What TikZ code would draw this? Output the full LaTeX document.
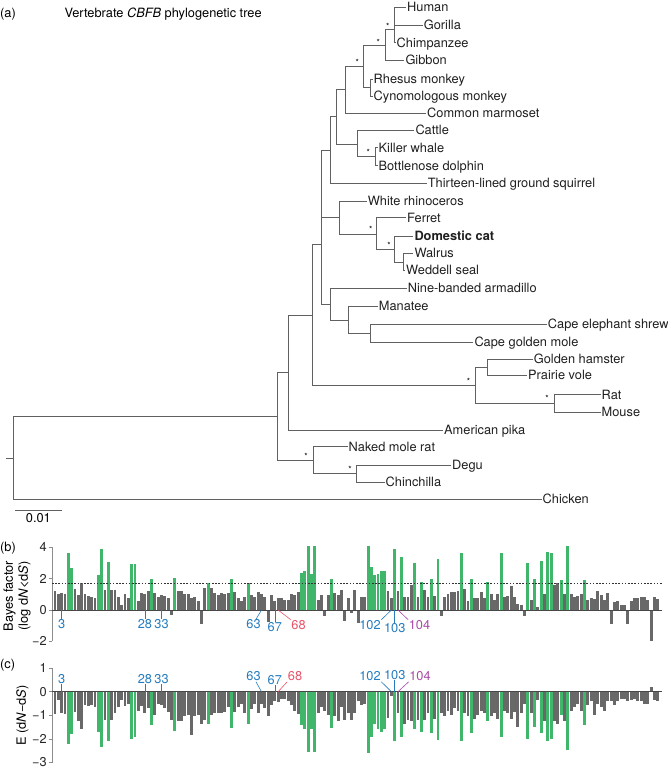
\documentclass[tikz,border=0pt]{standalone}
\usepackage{fontspec}
\setmainfont{TeX Gyre Heros}
\usepackage{xcolor}
\usetikzlibrary{positioning}

\definecolor{selgreen}{RGB}{64,182,106}
\definecolor{bargray}{RGB}{104,104,104}
\definecolor{siteblue}{RGB}{36,124,190}
\definecolor{sitered}{RGB}{232,84,106}
\definecolor{sitepurple}{RGB}{168,76,164}

\begin{document}
\begin{tikzpicture}[
  x=1pt, y=-1pt,
  font=\fontsize{12.8}{14}\selectfont,
  branch/.style={draw=black!62, line width=0.75pt},
  leaf/.style={anchor=west, inner sep=1pt, text height=9.2pt, text depth=0pt, text=black!88},
  star/.style={font=\fontsize{8.5}{8.5}\selectfont, inner sep=0pt},
  axisline/.style={draw=black!45, line width=0.8pt},
  zeroline/.style={draw=black!72, line width=0.9pt},
  ticklbl/.style={anchor=east, inner sep=1pt, text=black!85},
  site/.style={inner sep=0.5pt, text=siteblue, font=\fontsize{12.8}{14}\selectfont},
  lead/.style={draw=#1, line width=0.6pt},
  lead/.default=siteblue
]
\useasboundingbox (0,0) rectangle (668,769);

% panel (a): tree
\node[anchor=west, inner sep=0] (pa) at (0,14) {(a)};
\node[anchor=west, inner sep=0] (title) at (64.3,14) {Vertebrate \textit{CBFB} phylogenetic tree};

% internal nodes
\coordinate (rootstub) at (6,458);
\coordinate (root) at (13,458);
\coordinate (eut) at (277,416.5);
\coordinate (bor) at (288.5,372.3);
\coordinate (hyst) at (313.3,460);
\coordinate (degchin) at (356,473.5);
\coordinate (bm) at (312.5,315);
\coordinate (rod) at (475,385);
\coordinate (hv) at (487.7,367);
\coordinate (rm) at (554,403.5);
\coordinate (lm) at (321,244.3);
\coordinate (n150) at (330.7,150);
\coordinate (n116) at (336,116.7);
\coordinate (prim) at (345.3,89.3);
\coordinate (catr) at (363.7,66);
\coordinate (ape) at (385.7,45);
\coordinate (hgc) at (394.3,29.3);
\coordinate (rc) at (370.3,87.7);
\coordinate (laur) at (357.3,144.3);
\coordinate (wh) at (375.7,156.7);
\coordinate (n217) at (339.3,217.3);
\coordinate (carn) at (376.7,234.3);
\coordinate (fel) at (394.3,249.3);
\coordinate (pin) at (403.3,262.3);
\coordinate (n304) at (330,304.3);
\coordinate (afro) at (348.3,320);
\coordinate (tenr) at (370,333.3);

% leaves
\node[leaf] (human) at (406,7.3) {Human};
\node[leaf] (gorilla) at (422.7,25) {Gorilla};
\node[leaf] (chimp) at (395.5,42.7) {Chimpanzee};
\node[leaf] (gibbon) at (404.3,60.3) {Gibbon};
\node[leaf] (rhesus) at (372.5,79) {Rhesus monkey};
\node[leaf] (cyno) at (372.5,96.3) {Cynomologous monkey};
\node[leaf] (marmoset) at (426,113.3) {Common marmoset};
\node[leaf] (cattle) at (414.3,130) {Cattle};
\node[leaf] (orca) at (377.5,147.7) {Killer whale};
\node[leaf] (dolphin) at (377.5,165.7) {Bottlenose dolphin};
\node[leaf] (squirrel) at (426.7,183.3) {Thirteen-lined ground squirrel};
\node[leaf] (rhino) at (366.7,201) {White rhinoceros};
\node[leaf] (ferret) at (406,217.7) {Ferret};
\node[leaf] (cat) at (413.3,236) {\textbf{Domestic cat}};
\node[leaf] (walrus) at (413.3,253.3) {Walrus};
\node[leaf] (seal) at (405,270) {Weddell seal};
\node[leaf] (armadillo) at (406.7,288.3) {Nine-banded armadillo};
\node[leaf] (manatee) at (377.7,306) {Manatee};
\node[leaf] (shrew) at (546.7,324) {Cape elephant shrew};
\node[leaf] (mole) at (473.3,342.3) {Cape golden mole};
\node[leaf] (hamster) at (532.7,359) {Golden hamster};
\node[leaf] (vole) at (527,375) {Prairie vole};
\node[leaf] (rat) at (600.5,394.7) {Rat};
\node[leaf] (mouse) at (600.5,412.3) {Mouse};
\node[leaf] (pika) at (443,430) {American pika};
\node[leaf] (nmr) at (347.5,446.7) {Naked mole rat};
\node[leaf] (degu) at (451,465) {Degu};
\node[leaf] (chinchilla) at (384.5,482) {Chinchilla};
\node[leaf] (chicken) at (541.5,499.3) {Chicken};

% branches
\draw[branch] (rootstub) -- (root);
\foreach \p/\c in {root/eut, root/chicken.west, eut/bor, eut/hyst,
    bor/bm, bor/pika.west, hyst/nmr.west, hyst/degchin,
    degchin/degu.west, degchin/chinchilla.west, bm/lm, bm/rod,
    rod/hv, rod/rm, hv/hamster.west, hv/vole.west, rm/rat.west, rm/mouse.west,
    lm/n150, lm/n217, lm/n304, n150/n116, n150/squirrel.west,
    n116/prim, n116/laur, prim/catr, prim/marmoset.west,
    catr/ape, catr/rc, ape/hgc, ape/gibbon.west,
    hgc/human.west, hgc/gorilla.west, hgc/chimp.west,
    rc/rhesus.west, rc/cyno.west, laur/cattle.west, laur/wh,
    wh/orca.west, wh/dolphin.west, n217/rhino.west, n217/carn,
    carn/ferret.west, carn/fel, fel/cat.west, fel/pin,
    pin/walrus.west, pin/seal.west, n304/armadillo.west, n304/afro,
    afro/manatee.west, afro/tenr, tenr/shrew.west, tenr/mole.west}
  \draw[branch] (\p) |- (\c);

% support stars
\foreach \sx/\sy [count=\k] in {387.7/26.6, 378.3/42.3, 357.3/62.6, 368.3/152.3,
    370.7/229.3, 389/244.9, 468.5/381.6, 547/398.3, 306/455.9, 350/469.6}
  \node[star] (star\k) at (\sx,\sy) {*};

% scale bar
\coordinate (sb0) at (15,510.7);
\coordinate (sb1) at (61.7,510.7);
\draw[branch] (sb0) -- coordinate (sbmid) (sb1);
\node[below=1.5pt of sbmid, inner sep=1pt] (sblbl) {0.01};

% panels (b) and (c): bars
\foreach \b/\c [count=\i] in {
  1.2/-0.95, 1.0/-0.35, 1.1/-0.9, 1.05/-0.95, 3.6/-2.2, 2.65/-1.8, 1.35/-0.85, 0.95/-1.25, 1.7/-1.6, 1.0/-0.55,
  0.9/-0.6, 0.85/-0.55, 0.75/-0.65, 2.2/-1.7, 3.9/-2.35, 1.3/-1.2, 3.05/-2.1, 1.25/-1.2, 1.3/-0.9, 0.85/-0.65,
  0.3/-0.35, 1.0/-0.6, 0.75/-0.5, 2.9/-2.0, 2.9/-1.9, 0.55/-0.8, 1.1/-0.6, 1.0/-0.9, 1.2/-0.7, 1.95/-1.4,
  1.1/-1.0, 0.85/-0.5, 0.95/-0.55, 0.9/-0.7, 0.75/-0.85, -0.3/-1.2, 2.05/-1.65, 1.2/-1.25, 1.2/-1.25, 1.05/-1.05,
  1.0/-1.0, 0.75/-1.85, 0.85/-1.05, 0.6/-1.0, -0.9/-1.35, 1.4/-1.2, 1.75/-1.35, 1.4/-1.0, 1.1/-0.9, 0.95/-0.9,
  1.1/-0.9, 1.05/-0.85, 1.1/-0.65, 2.0/-1.55, 1.15/-0.85, 0.75/-0.65, 0.55/-0.5, 0.85/-0.9, 1.75/-1.35, 0.95/-0.75,
  0.8/-0.5, 1.15/-0.9, 1.05/-0.5, 0.8/-0.7, -0.75/-1.05, 0.95/-0.55, 0.55/-0.4, 0.75/-0.45, 0.75/-0.3, 0.65/-0.3,
  0.65/-0.4, 1.0/-0.55, 0.95/-0.8, 1.15/-0.95, 2.35/-1.4, 2.5/-1.6, 4.05/-2.55, 2.3/-1.6, 4.05/-2.55, 0.65/-0.9,
  0.95/-0.65, -0.4/-0.8, 0.95/-1.0, 2.0/-1.55, 1.1/-1.05, 0.95/-1.25, 1.3/-0.65, -0.7/-1.2, 0.75/-0.9, -0.2/-1.2,
  1.25/-0.9, -0.85/-0.4, 0.8/-0.55, 0.85/-0.5, 4.05/-2.6, 2.75/-1.9, 2.2/-1.35, 2.3/-1.6, 2.5/-1.7, 2.5/-1.6,
  1.2/-1.1, 0.75/-0.2, 3.9/-2.1, 1.2/-0.9, 3.4/-1.9, 0.8/-1.35, 0.8/-1.2, 1.6/-1.25, 3.0/-1.6, 0.85/-1.2,
  1.8/-1.7, 1.3/-1.2, 0.85/-0.9, 2.0/-1.75, 0.9/-1.15, 3.25/-2.05, -0.4/-0.9, 0.8/-1.05, 1.05/-0.8, 1.15/-1.0,
  1.15/-0.7, 1.2/-0.8, 3.6/-2.1, 1.35/-0.9, 0.6/-1.05, 1.95/-1.75, 0.75/-1.15, 0.75/-1.0, 1.15/-0.8, 0.75/-0.9,
  1.8/-1.25, 1.05/-1.05, 0.65/-0.9, 1.05/-1.15, 3.6/-1.9, 0.8/-0.8, 0.9/-0.9, 1.5/-1.15, 0.85/-0.85, 0.4/-1.5,
  0.3/-0.9, -0.4/-0.5, 3.0/-2.0, 0.65/-0.9, 1.95/-1.5, 0.2/-0.35, 3.15/-1.75, 1.05/-1.25, 3.7/-2.1, 3.6/-2.0,
  1.6/-1.25, 1.7/-1.35, 1.9/-1.0, 1.0/-1.25, 4.05/-2.45, 1.05/-0.8, 0.85/-0.65, 0.9/-0.5, 1.0/-0.8, 1.9/-1.4,
  0.65/-0.55, 0.75/-0.4, 0.7/-1.0, 1.2/-0.5, 0.95/-0.65, 0.65/-0.8, 1.1/-0.4, -0.9/-0.4, 0.5/-0.55, 0.55/-0.4,
  0.3/-0.3, 0.3/-0.3, -0.9/-0.4, 0.55/-0.35, 0.75/-0.3, 0.75/-0.4, 0.85/-0.4, 0.8/-0.5, 0.65/-0.5, -2.0/0.2,
  0.8/-0.35, 0.7/-0.4}
{
  \pgfmathsetmacro\xc{51.7+3.33*\i}
  \pgfmathtruncatemacro\sel{\b>1.72}
  \ifnum\sel=1 \def\barcol{selgreen}\else\def\barcol{bargray}\fi
  \fill[\barcol] ({\xc-1.45},610) rectangle ({\xc+1.45},{610-15.7*\b});
  \fill[\barcol] ({\xc-1.45},691.7) rectangle ({\xc+1.45},{691.7-23.6*\c});
}

% panel (b): axes
\node[anchor=west, inner sep=0] (pb) at (0,548) {(b)};
\draw[axisline] (52,547.2) -- (52,641.4);
\foreach \v/\t in {4/4, 2/2, 0/0, -2/−2} {
  \draw[axisline] (48.5,{610-15.7*\v}) -- (52,{610-15.7*\v});
  \node[ticklbl] (tb\v) at (48,{610-15.7*\v}) {\t};
}
\draw[dash pattern=on 1.6pt off 1.6pt, line width=0.5pt, black!80] (52,583.3) -- (662,583.3);
\draw[zeroline] (52,610) -- (662,610);
\node[rotate=90, align=center, inner sep=0, font=\fontsize{12.8}{15}\selectfont] (bflbl) at (17,596)
  {Bayes factor\\(log d\textit{N}<d\textit{S})};

% panel (c): axes
\node[anchor=west, inner sep=0] (pc) at (0,665) {(c)};
\draw[axisline] (52,668.1) -- (52,762.5);
\foreach \v/\t in {1/1, 0/0, -1/−1, -2/−2, -3/−3} {
  \draw[axisline] (48.5,{691.7-23.6*\v}) -- (52,{691.7-23.6*\v});
  \node[ticklbl] (tc\v) at (48,{691.7-23.6*\v}) {\t};
}
\draw[zeroline] (52,691.7) -- (662,691.7);
\node[rotate=90, inner sep=0] (elbl) at (22.5,715.5) {E (d\textit{N}−d\textit{S})};

% site labels
\foreach \s/\xs in {3/61.7, 28/144.9, 33/161.6, 63/261.5, 67/274.8, 68/278.1, 102/391.4, 103/394.7, 104/398}{
  \coordinate (pb\s) at (\xs,610);
  \coordinate (pc\s) at (\xs,691.7);
}
\node[site] (b3) at (61.7,624.5) {3};
\node[site] (b28) at (144.9,624.5) {28};
\node[site] (b33) at (161.6,624.5) {33};
\node[site] (b63) at (253.5,624.5) {63};
\node[site] (b67) at (274.8,627.5) {67};
\node[site, text=sitered] (b68) at (298.5,625) {68};
\node[site] (b102) at (370,625) {102};
\node[site] (b103) at (394.7,628) {103};
\node[site, text=sitepurple] (b104) at (419.5,625) {104};
\draw[lead] (pb3) -- (b3.north);
\draw[lead] (pb28) -- (b28.north);
\draw[lead] (pb33) -- (b33.north);
\draw[lead] (pb63) -- ([xshift=2.5pt]b63.north);
\draw[lead] (pb67) -- (b67.north);
\draw[lead=sitered] (pb68) -- (b68.north west);
\draw[lead] (pb102) -- (b102.north east);
\draw[lead] (pb103) -- (b103.north);
\draw[lead=sitepurple] (pb104) -- (b104.north west);

\node[site] (c3) at (61.7,679) {3};
\node[site] (c28) at (144.9,679) {28};
\node[site] (c33) at (161.6,679) {33};
\node[site] (c63) at (253.5,676.5) {63};
\node[site] (c67) at (274.8,680) {67};
\node[site, text=sitered] (c68) at (295,676.5) {68};
\node[site] (c102) at (370,676.5) {102};
\node[site] (c103) at (394.7,675) {103};
\node[site, text=sitepurple] (c104) at (420,676.5) {104};
\draw[lead] (pc3) -- (c3.south);
\draw[lead] (pc28) -- (c28.south);
\draw[lead] (pc33) -- (c33.south);
\draw[lead] (pc63) -- ([xshift=2.5pt]c63.south);
\draw[lead] (pc67) -- (c67.south);
\draw[lead=sitered] (pc68) -- (c68.south west);
\draw[lead] (pc102) -- (c102.south east);
\draw[lead] (pc103) -- (c103.south);
\draw[lead=sitepurple] (pc104) -- (c104.south west);
\end{tikzpicture}
\end{document}
